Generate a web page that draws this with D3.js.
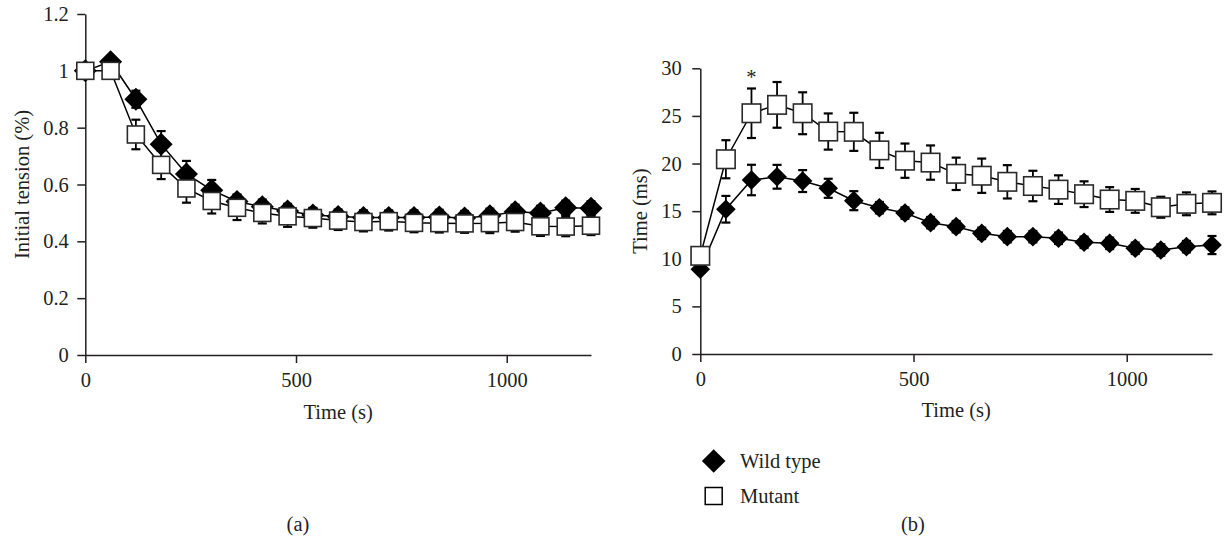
<!DOCTYPE html>
<html>
<head>
<meta charset="utf-8">
<script src="https://cdn.jsdelivr.net/npm/d3@7"></script>
<style>
  html, body { margin: 0; padding: 0; background: #fff; }
  svg { display: block; }
</style>
</head>
<body>
<svg id="chart" width="1224" height="550" font-family="Liberation Serif"></svg>
<script>
// ---------- data ----------
const timePoints = [0, 60, 120, 180, 240, 300, 360, 420, 480, 540, 600, 660, 720, 780, 840, 900, 960, 1020, 1080, 1140, 1200];

// Panel (a): initial tension
const tensionWT      = [1.0, 1.032, 0.90, 0.742, 0.637, 0.58, 0.54, 0.522, 0.507, 0.493, 0.487, 0.484, 0.484, 0.484, 0.486, 0.482, 0.49, 0.504, 0.50, 0.518, 0.516];
const tensionWTErr   = [0.0, 0.02, 0.03, 0.046, 0.046, 0.036, 0.025, 0.025, 0.025, 0.025, 0.025, 0.025, 0.025, 0.025, 0.025, 0.025, 0.025, 0.025, 0.025, 0.025, 0.025];
const tensionMut     = [1.0, 1.0, 0.776, 0.669, 0.586, 0.542, 0.518, 0.50, 0.488, 0.482, 0.473, 0.468, 0.471, 0.465, 0.464, 0.463, 0.464, 0.468, 0.453, 0.452, 0.455];
const tensionMutErr  = [0.0, 0.0, 0.052, 0.05, 0.05, 0.044, 0.043, 0.037, 0.037, 0.034, 0.033, 0.033, 0.033, 0.033, 0.033, 0.033, 0.035, 0.034, 0.034, 0.034, 0.033];

// Panel (b): time (ms)
const timeMsWT       = [8.9, 15.2, 18.27, 18.61, 18.16, 17.4, 16.1, 15.36, 14.8, 13.79, 13.37, 12.67, 12.32, 12.32, 12.15, 11.73, 11.62, 11.1, 10.92, 11.27, 11.44];
const timeMsWTErr    = [0.3, 1.4, 1.6, 1.25, 1.15, 1.0, 1.0, 0.6, 0.6, 0.6, 0.6, 0.6, 0.6, 0.6, 0.6, 0.6, 0.6, 0.6, 0.6, 0.6, 0.95];
const timeMsMut      = [10.31, 20.45, 25.28, 26.16, 25.28, 23.36, 23.33, 21.38, 20.3, 20.1, 18.92, 18.72, 18.08, 17.64, 17.26, 16.78, 16.22, 16.08, 15.41, 15.77, 15.87];
const timeMsMutErr   = [0.3, 2.0, 2.6, 2.4, 2.2, 1.9, 2.0, 1.85, 1.8, 1.8, 1.7, 1.8, 1.75, 1.6, 1.5, 1.35, 1.3, 1.25, 1.1, 1.2, 1.2];

const xTicks = [0, 500, 1000];
const yTicksA = [0, 0.2, 0.4, 0.6, 0.8, 1, 1.2];
const yTicksB = [0, 5, 10, 15, 20, 25, 30];
const seriesNames = ["Wild type", "Mutant"];

// ---------- drawing ----------
const svg = d3.select("#chart");
const FS = 20.5;
const FAM = "Liberation Serif";
const TXT = "#231f20";

function styleText(sel) {
  return sel.attr("font-family", FAM).attr("font-size", FS).attr("fill", TXT);
}
function diamondPath(r) { return `M0,${-r}L${r},0L0,${r}L${-r},0Z`; }

function drawPanel(cfg) {
  const g = svg.append("g");
  const x = d3.scaleLinear().domain([0, 1200]).range([cfg.left, cfg.right]);
  const y = d3.scaleLinear().domain([0, cfg.yMax]).range([cfg.bottom, cfg.top]);

  const xAxis = g.append("g").attr("transform", `translate(0,${cfg.bottom})`)
    .call(d3.axisBottom(x).tickValues(xTicks).tickSize(8).tickSizeOuter(0).tickPadding(9.3).tickFormat(d => String(d)));
  const yAxis = g.append("g").attr("transform", `translate(${cfg.left},0)`)
    .call(d3.axisLeft(y).tickValues(cfg.yTicks).tickSize(8).tickSizeOuter(0).tickPadding(cfg.yPad).tickFormat(d => String(d)));
  [xAxis, yAxis].forEach(a => {
    a.attr("font-family", FAM).attr("font-size", FS);
    a.selectAll("path.domain").attr("stroke", TXT).attr("stroke-width", 1.5);
    a.selectAll(".tick line").attr("stroke", TXT).attr("stroke-width", 1.5);
    styleText(a.selectAll(".tick text"));
  });

  // axis titles
  styleText(g.append("text")).attr("x", (cfg.left + cfg.right) / 2).attr("y", cfg.xTitleY)
    .attr("text-anchor", "middle").text("Time (s)");
  styleText(g.append("text")).attr("transform", `translate(${cfg.yTitleX},${(cfg.top + cfg.bottom) / 2}) rotate(-90)`)
    .attr("text-anchor", "middle").text(cfg.yTitle);

  const series = [
    { vals: cfg.wt, errs: cfg.wtErr },
    { vals: cfg.mut, errs: cfg.mutErr }
  ];

  // error bars
  const capW = 4.5;
  series.forEach(s => {
    const eb = g.append("g").attr("stroke", "#000").attr("stroke-width", 1.8).attr("fill", "none");
    timePoints.forEach((t, i) => {
      if (!s.errs[i]) return;
      const cx = x(t), y1 = y(s.vals[i] + s.errs[i]), y0 = y(s.vals[i] - s.errs[i]);
      eb.append("line").attr("x1", cx).attr("x2", cx).attr("y1", y1).attr("y2", y0);
      eb.append("line").attr("x1", cx - capW).attr("x2", cx + capW).attr("y1", y1).attr("y2", y1).attr("stroke-width", 2.2);
      eb.append("line").attr("x1", cx - capW).attr("x2", cx + capW).attr("y1", y0).attr("y2", y0).attr("stroke-width", 2.2);
    });
  });

  // lines
  const line = d3.line().x((d, i) => x(timePoints[i])).y(d => y(d));
  series.forEach(s => {
    g.append("path").datum(s.vals).attr("d", line)
      .attr("fill", "none").attr("stroke", "#000").attr("stroke-width", 1.5);
  });

  // markers
  g.append("g").selectAll("path").data(cfg.wt).join("path")
    .attr("transform", (d, i) => `translate(${x(timePoints[i])},${y(d)})`)
    .attr("d", diamondPath(cfg.dR)).attr("fill", "#000");
  g.append("g").selectAll("rect").data(cfg.mut).join("rect")
    .attr("x", (d, i) => x(timePoints[i]) - cfg.sq / 2)
    .attr("y", d => y(d) - cfg.sq / 2)
    .attr("width", cfg.sq).attr("height", cfg.sq)
    .attr("fill", "#fff").attr("stroke", "#2a2a2a").attr("stroke-width", 1.6);

  styleText(g.append("text")).attr("x", cfg.panelLabelX).attr("y", 531)
    .attr("text-anchor", "middle").text(cfg.panelLabel);

  return { g, x, y };
}

drawPanel({
  left: 85.3, right: 591, top: 14, bottom: 355, yMax: 1.2, yTicks: yTicksA, yPad: 8.5,
  wt: tensionWT, wtErr: tensionWTErr, mut: tensionMut, mutErr: tensionMutErr,
  dR: 11.5, sq: 17, xTitleY: 418.8, yTitleX: 28.5, yTitle: "Initial tension (%)",
  panelLabel: "(a)", panelLabelX: 298
});

const pb = drawPanel({
  left: 700.3, right: 1212, top: 68.3, bottom: 354, yMax: 30, yTicks: yTicksB, yPad: 10.5,
  wt: timeMsWT, wtErr: timeMsWTErr, mut: timeMsMut, mutErr: timeMsMutErr,
  dR: 9.8, sq: 18.5, xTitleY: 416.8, yTitleX: 646.7, yTitle: "Time (ms)",
  panelLabel: "(b)", panelLabelX: 913
});

// significance marker
styleText(pb.g.append("text")).attr("x", pb.x(timePoints[2])).attr("y", 84)
  .attr("text-anchor", "middle").text("*");

// legend
const legend = svg.append("g");
legend.append("path").attr("transform", "translate(713.7,461)").attr("d", diamondPath(11.8)).attr("fill", "#000");
legend.append("rect").attr("x", 705.2).attr("y", 487.5).attr("width", 17).attr("height", 17)
  .attr("fill", "#fff").attr("stroke", "#000").attr("stroke-width", 1.5);
styleText(legend.append("text")).attr("x", 740).attr("y", 467.8).text(seriesNames[0]);
styleText(legend.append("text")).attr("x", 740).attr("y", 502.8).text(seriesNames[1]);
</script>
</body>
</html>
